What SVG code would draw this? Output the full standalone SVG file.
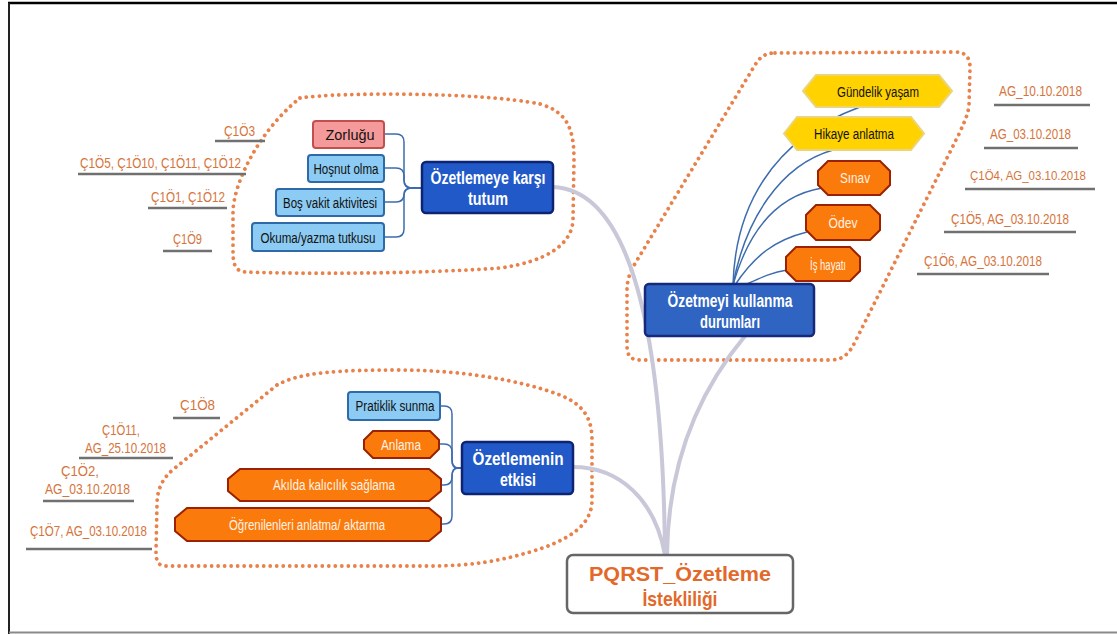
<svg xmlns="http://www.w3.org/2000/svg" width="1117" height="634" viewBox="0 0 1117 634">
<style>
text{font-family:"Liberation Sans",Arial,sans-serif}
.lbl{font-size:15px;fill:#d5743c}
.ul{stroke:#707070;stroke-width:2.5}
.nt{font-size:15.5px;fill:#111;text-anchor:middle}
.wt{font-size:15.5px;fill:#fff3e6;text-anchor:middle}
.bt{font-size:18px;font-weight:bold;fill:#fff;text-anchor:middle}
.lb{fill:#8ccbf3;stroke:#2f6aa8;stroke-width:2}
.pk{fill:#f59a9a;stroke:#c0504d;stroke-width:2}
.db{fill:#2159c9;stroke:#0d2473;stroke-width:2.5}
.db2{fill:#2f64c2;stroke:#16297a;stroke-width:2.5}
.ye{fill:#ffd200;stroke:#ead57a;stroke-width:2}
.or{fill:#fb7a0c;stroke:#9a2200;stroke-width:2}
.dot{fill:none;stroke:#e8814a;stroke-width:3.8;stroke-dasharray:0.01 6.5;stroke-linecap:round}
.main{fill:none;stroke:#c9c8d9;stroke-width:4;stroke-linecap:round}
.sub{fill:none;stroke:#3d6cae;stroke-width:1.5}
</style>
<rect width="1117" height="634" fill="#fff"/>
<g id="frame">
<line x1="8" y1="3" x2="1117" y2="3" stroke="#000" stroke-width="2.5"/>
<line x1="9" y1="3" x2="9" y2="634" stroke="#222" stroke-width="2"/>
<line x1="9" y1="632.5" x2="1117" y2="632.5" stroke="#8a8a8a" stroke-width="2"/>
</g>
<g id="outlines">
<path class="dot" d="M300,98 C340,92 480,92 540,104 C568,112 574,130 574,160 L573,220 C572,245 545,262 500,268 C420,274 300,274 245,272 C234,271 233,262 233,250 L233,210 C235,180 260,130 300,98 Z"/>
<path class="dot" d="M775,53 L955,52 C966,52 970,58 970,68 L969,105 C968,115 965,120 960,132 L855,342 C849,354 843,360 830,360 L640,360 C630,360 627,355 627,345 L627,290 C627,280 630,272 636,262 L755,65 C760,57 765,53 775,53 Z"/>
<path class="dot" d="M277,385 C300,372 340,370 400,370 C460,370 520,380 560,395 C585,405 592,420 592,440 L592,500 C592,525 570,540 530,552 C500,561 470,566 430,566 L165,566 C158,566 156,560 156,552 L157,505 C157,490 162,478 175,468 Z"/>
</g>
<g id="connectors">
<path class="main" d="M553,187 C630,190 663,330 665,555"/>
<path class="main" d="M745,336 C700,390 668,460 667,555"/>
<path class="main" d="M573,467 C620,467 655,500 665,555"/>
<path class="sub" d="M384,134 H396 Q404,134 404,142 V180 Q404,188 412,188 H422"/>
<path class="sub" d="M384,168 H396 Q404,168 404,176 V180 Q404,188 412,188 H422"/>
<path class="sub" d="M384,202 H396 Q404,202 404,194 Q404,188 412,188 H422"/>
<path class="sub" d="M384,237 H396 Q404,237 404,229 V196 Q404,188 412,188 H422"/>
<path class="sub" d="M440,406 H444 Q452,406 452,414 V460 Q452,468 458,468 H462"/>
<path class="sub" d="M440,444 H444 Q452,444 452,452 V460 Q452,468 458,468 H462"/>
<path class="sub" d="M441,485 H444 Q452,485 452,477 V476 Q452,468 458,468 H462"/>
<path class="sub" d="M441,524 H444 Q452,524 452,516 V476 Q452,468 458,468 H462"/>
<path class="sub" d="M733,285 C735,210 770,140 860,107"/>
<path class="sub" d="M733,285 C745,220 780,165 833,150"/>
<path class="sub" d="M733,285 C750,225 780,195 822,188"/>
<path class="sub" d="M735,285 C755,255 775,240 807,232"/>
<path class="sub" d="M745,285 C760,278 772,272 787,270"/>
</g>
<g id="root">
<rect x="567" y="555" width="226" height="58" rx="6" fill="#fff" stroke="#666" stroke-width="2.5"/>
<text x="680" y="581" style="font-size:21px;font-weight:bold;fill:#e2692a;text-anchor:middle" textLength="182" lengthAdjust="spacingAndGlyphs">PQRST_Özetleme</text>
<text x="680" y="606" style="font-size:21px;font-weight:bold;fill:#e2692a;text-anchor:middle" textLength="75" lengthAdjust="spacingAndGlyphs">İstekliliği</text>
</g>
<g id="tutum">
<rect class="db" x="422" y="162" width="131" height="51" rx="4"/>
<text class="bt" x="488" y="184" textLength="115" lengthAdjust="spacingAndGlyphs">Özetlemeye karşı</text>
<text class="bt" x="488" y="205" textLength="40" lengthAdjust="spacingAndGlyphs">tutum</text>
</g>
<g id="zorlugu"><rect class="pk" x="313" y="121" width="71" height="27" rx="3"/><text class="nt" x="350" y="140" textLength="49" lengthAdjust="spacingAndGlyphs">Zorluğu</text></g>
<g id="hosnut"><rect class="lb" x="308" y="155" width="76" height="27" rx="3"/><text class="nt" x="346" y="174" textLength="65" lengthAdjust="spacingAndGlyphs">Hoşnut olma</text></g>
<g id="bos"><rect class="lb" x="276" y="189" width="108" height="27" rx="3"/><text class="nt" x="330" y="208" textLength="94" lengthAdjust="spacingAndGlyphs">Boş vakit aktivitesi</text></g>
<g id="okuma"><rect class="lb" x="252" y="223" width="132" height="28" rx="3"/><text class="nt" x="318" y="243" textLength="115" lengthAdjust="spacingAndGlyphs">Okuma/yazma tutkusu</text></g>
<g id="labels-tl">
<text class="lbl" x="224" y="136" textLength="31" lengthAdjust="spacingAndGlyphs">Ç1Ö3</text><line class="ul" x1="215" y1="141" x2="265" y2="141"/>
<text class="lbl" x="80" y="168" textLength="161" lengthAdjust="spacingAndGlyphs">Ç1Ö5, Ç1Ö10, Ç1Ö11, Ç1Ö12</text><line class="ul" x1="78" y1="174" x2="246" y2="174"/>
<text class="lbl" x="151" y="202" textLength="74" lengthAdjust="spacingAndGlyphs">Ç1Ö1, Ç1Ö12</text><line class="ul" x1="148" y1="208" x2="227" y2="208"/>
<text class="lbl" x="173" y="244" textLength="29" lengthAdjust="spacingAndGlyphs">Ç1Ö9</text><line class="ul" x1="163" y1="251" x2="212" y2="251"/>
</g>
<g id="kullanma">
<rect class="db2" x="645" y="284" width="169" height="52" rx="4"/>
<text class="bt" x="730" y="307" textLength="125" lengthAdjust="spacingAndGlyphs">Özetmeyi kullanma</text>
<text class="bt" x="730" y="328" textLength="60" lengthAdjust="spacingAndGlyphs">durumları</text>
</g>
<g id="gundelik"><polygon class="ye" points="803,91 816,75 939,75 952,91 939,107 816,107"/><text class="nt" x="878" y="97" textLength="82" lengthAdjust="spacingAndGlyphs">Gündelik yaşam</text></g>
<g id="hikaye"><polygon class="ye" points="784,133.5 797,117 911,117 924,133.5 911,150 797,150"/><text class="nt" x="854" y="139" textLength="80" lengthAdjust="spacingAndGlyphs">Hikaye anlatma</text></g>
<g id="sinav"><polygon class="or" points="828,161 880,161 890,171 890,185 880,195 828,195 818,185 818,171"/><text class="wt" x="855" y="183" textLength="30" lengthAdjust="spacingAndGlyphs">Sınav</text></g>
<g id="odev"><polygon class="or" points="816,205 870,205 880,215 880,230 870,240 816,240 806,230 806,215"/><text class="wt" x="843" y="228" textLength="29" lengthAdjust="spacingAndGlyphs">Ödev</text></g>
<g id="is"><polygon class="or" points="796,247 850,247 860,257 860,271 850,281 796,281 786,271 786,257"/><text class="wt" x="828" y="270" textLength="36" lengthAdjust="spacingAndGlyphs">İş hayatı</text></g>
<g id="labels-tr">
<text class="lbl" x="999" y="96" textLength="83" lengthAdjust="spacingAndGlyphs">AG_10.10.2018</text><line class="ul" x1="994" y1="105" x2="1090" y2="105"/>
<text class="lbl" x="990" y="139" textLength="81" lengthAdjust="spacingAndGlyphs">AG_03.10.2018</text><line class="ul" x1="984" y1="148" x2="1078" y2="148"/>
<text class="lbl" x="970" y="180" style="font-size:13.5px" textLength="116" lengthAdjust="spacingAndGlyphs">Ç1Ö4, AG_03.10.2018</text><line class="ul" x1="965" y1="189" x2="1095" y2="189"/>
<text class="lbl" x="951" y="224" textLength="118" lengthAdjust="spacingAndGlyphs">Ç1Ö5, AG_03.10.2018</text><line class="ul" x1="944" y1="232" x2="1076" y2="232"/>
<text class="lbl" x="924" y="266" textLength="118" lengthAdjust="spacingAndGlyphs">Ç1Ö6, AG_03.10.2018</text><line class="ul" x1="917" y1="274" x2="1049" y2="274"/>
</g>
<g id="etkisi">
<rect class="db" x="462" y="442" width="111" height="52" rx="4"/>
<text class="bt" x="518" y="465" textLength="91" lengthAdjust="spacingAndGlyphs">Özetlemenin</text>
<text class="bt" x="518" y="486" textLength="36" lengthAdjust="spacingAndGlyphs">etkisi</text>
</g>
<g id="pratiklik"><rect class="lb" x="348" y="392" width="92" height="28" rx="3"/><text class="nt" x="395" y="411" textLength="79" lengthAdjust="spacingAndGlyphs">Pratiklik sunma</text></g>
<g id="anlama"><polygon class="or" points="373,431 430,431 439,440 439,449 430,458 373,458 364,449 364,440"/><text class="wt" x="401" y="450" textLength="40" lengthAdjust="spacingAndGlyphs">Anlama</text></g>
<g id="akilda"><polygon class="or" points="240,469 429,469 441,479 441,491 429,501 240,501 228,491 228,479"/><text class="wt" x="334" y="490" textLength="122" lengthAdjust="spacingAndGlyphs">Akılda kalıcılık sağlama</text></g>
<g id="ogrenilen"><polygon class="or" points="187,508 429,508 441,518 441,531 429,541 187,541 175,531 175,518"/><text class="wt" x="307" y="530" textLength="156" lengthAdjust="spacingAndGlyphs">Öğrenilenleri anlatma/ aktarma</text></g>
<g id="labels-bl">
<text class="lbl" x="180" y="410" textLength="35" lengthAdjust="spacingAndGlyphs">Ç1Ö8</text><line class="ul" x1="173" y1="418" x2="220" y2="418"/>
<text class="lbl" x="121" y="435" text-anchor="middle" textLength="38" lengthAdjust="spacingAndGlyphs">Ç1Ö11,</text>
<text class="lbl" x="85" y="453" textLength="81" lengthAdjust="spacingAndGlyphs">AG_25.10.2018</text><line class="ul" x1="79" y1="458" x2="173" y2="458"/>
<text class="lbl" x="80" y="476" text-anchor="middle" textLength="38" lengthAdjust="spacingAndGlyphs">Ç1Ö2,</text>
<text class="lbl" x="45" y="494" textLength="85" lengthAdjust="spacingAndGlyphs">AG_03.10.2018</text><line class="ul" x1="43" y1="501" x2="134" y2="501"/>
<text class="lbl" x="30" y="536" textLength="117" lengthAdjust="spacingAndGlyphs">Ç1Ö7, AG_03.10.2018</text><line class="ul" x1="26" y1="549" x2="152" y2="549"/>
</g>
</svg>
